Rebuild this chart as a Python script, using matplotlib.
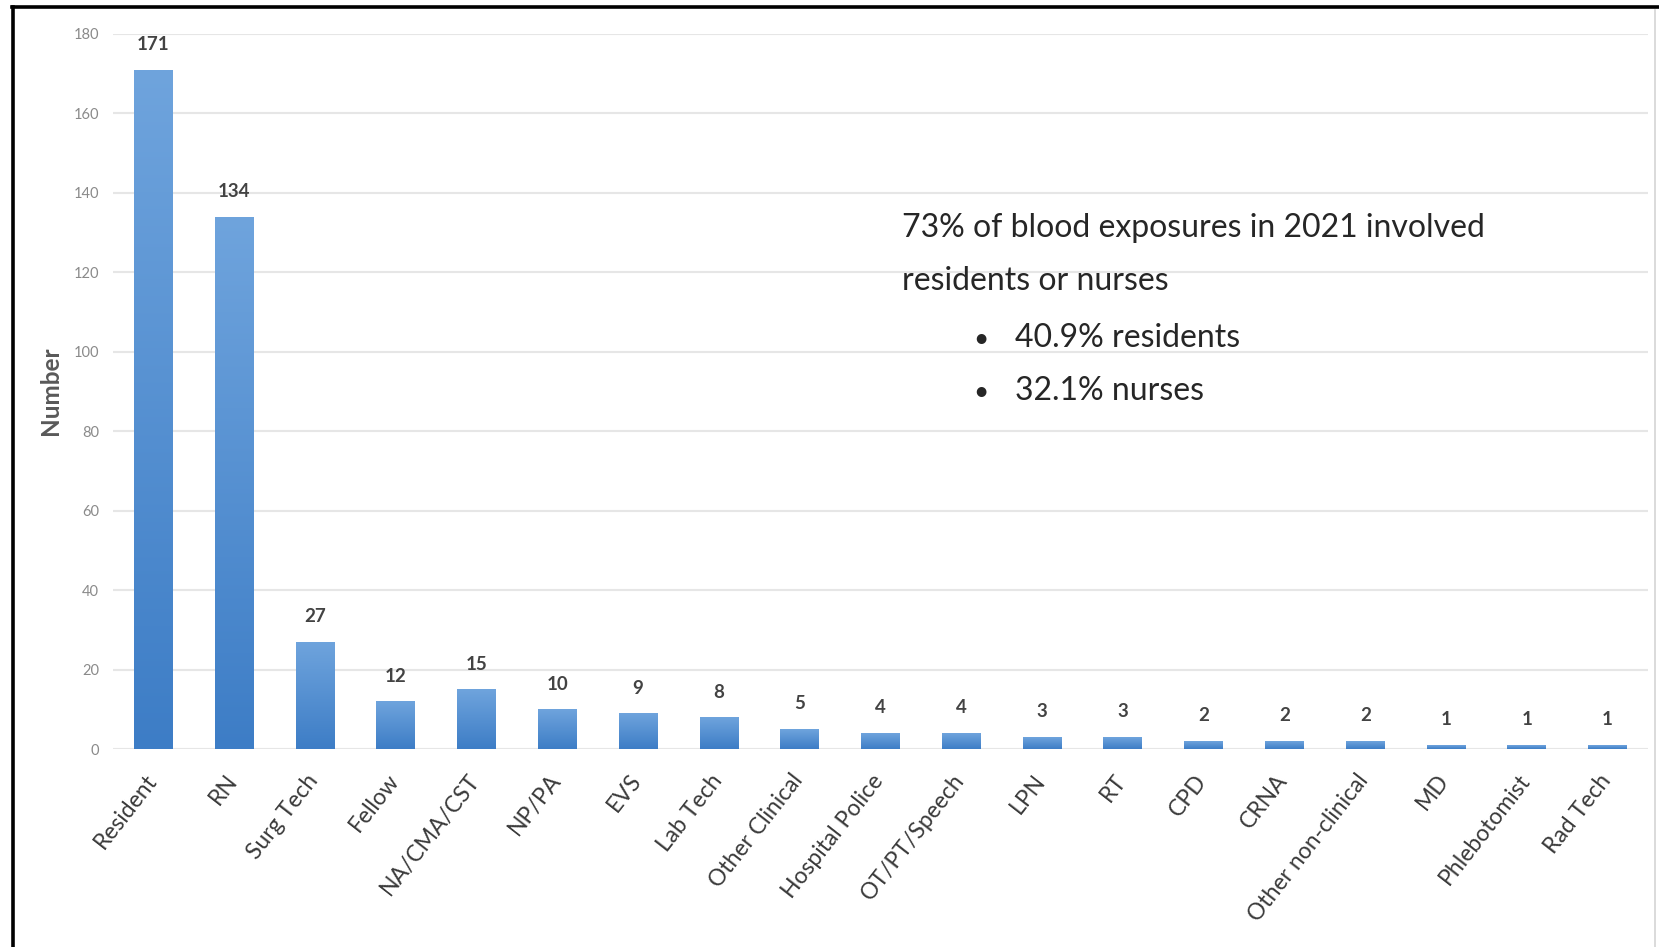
import numpy as np
import matplotlib
matplotlib.use("Agg")
import matplotlib.pyplot as plt
from matplotlib.colors import LinearSegmentedColormap
from matplotlib.lines import Line2D
from matplotlib.transforms import ScaledTranslation

plt.rcParams['font.family'] = ['Lato', 'DejaVu Sans']

# Blood exposures in 2021 by job category
categories = ["Resident", "RN", "Surg Tech", "Fellow", "NA/CMA/CST", "NP/PA", "EVS",
              "Lab Tech", "Other Clinical", "Hospital Police", "OT/PT/Speech", "LPN",
              "RT", "CPD", "CRNA", "Other non-clinical", "MD", "Phlebotomist", "Rad Tech"]
counts = [171, 134, 27, 12, 15, 10, 9, 8, 5, 4, 4, 3, 3, 2, 2, 2, 1, 1, 1]
y_ticks = [0, 20, 40, 60, 80, 100, 120, 140, 160, 180]

summary_lines = ["73% of blood exposures in 2021 involved", "residents or nurses"]
bullet_lines = ["40.9% residents", "32.1% nurses"]

W, H = 1659, 947
fig = plt.figure(figsize=(W / 100, H / 100), dpi=100)
ax = fig.add_axes([113 / W, 1 - 749 / H, (1648 - 113) / W, (749 - 34) / H])

x = np.arange(len(categories))
bars = ax.bar(x, counts, width=0.48, color="#5590d2", zorder=2)

# vertical gradient fill, lighter at the top of each bar
grad_cmap = LinearSegmentedColormap.from_list("barfill", ["#3d7dc6", "#6fa4dd"])
grad = np.linspace(0, 1, 256).reshape(-1, 1)
for b in bars:
    x0, w, h = b.get_x(), b.get_width(), b.get_height()
    im = ax.imshow(grad, cmap=grad_cmap, origin="lower", aspect="auto",
                   extent=(x0, x0 + w, 0, h), zorder=3)
    im.set_clip_path(b)

for xi, v in zip(x, counts):
    ax.annotate(str(v), (xi, v), xytext=(0, 12), textcoords="offset points",
                ha="center", va="bottom", fontsize=13.5, fontweight="bold",
                color="#434343", zorder=4)

ax.set_xlim(-0.5, len(categories) - 0.5)
ax.set_ylim(0, 180)
ax.set_yticks(y_ticks)
ax.set_yticklabels([str(t) for t in y_ticks], fontsize=10.5, color="#8a8a8a")
ax.yaxis.grid(True, color="#e6e6e6", linewidth=1.5, zorder=0)
ax.set_axisbelow(True)
for s in ax.spines.values():
    s.set_visible(False)
ax.tick_params(axis="both", length=0)
ax.tick_params(axis="y", pad=10)

ax.set_xticks(x)
ax.set_xticklabels(categories, rotation=52, ha="right", va="center",
                   rotation_mode="anchor", fontsize=16.5, color="#3a3a3a")
ax.tick_params(axis="x", pad=20)
off = ScaledTranslation(-1 / 100, 0, fig.dpi_scale_trans)
for lab in ax.get_xticklabels():
    lab.set_transform(lab.get_transform() + off)

ax.set_ylabel("Number", fontsize=17.5, fontweight="bold", color="#595959")
ax.yaxis.set_label_coords(50 / W, 1 - 391 / H, transform=fig.transFigure)
ax.yaxis.label.set_verticalalignment("center")

# summary text box
txt_kw = dict(fontsize=23, color="#262626", va="baseline")
fig.text(902 / W, 1 - 237 / H, summary_lines[0], **txt_kw)
fig.text(902 / W, 1 - 290 / H, summary_lines[1], **txt_kw)
for yb, txt in zip([347, 400], bullet_lines):
    fig.text(973 / W, 1 - yb / H, "\u2022", fontsize=19, color="#262626", va="baseline")
    fig.text(1015 / W, 1 - yb / H, txt, **txt_kw)

# frame lines around the slide
fig.add_artist(Line2D([12 / W, 1], [1 - 7 / H, 1 - 7 / H], color="black", lw=2.6,
                      transform=fig.transFigure))
fig.add_artist(Line2D([13 / W, 13 / W], [0, 1 - 7 / H], color="black", lw=2.6,
                      transform=fig.transFigure))
fig.add_artist(Line2D([1655 / W, 1655 / W], [0, 1 - 10 / H], color="#d4d4d4", lw=1.2,
                      transform=fig.transFigure))

fig.savefig("out.png", dpi=100)
